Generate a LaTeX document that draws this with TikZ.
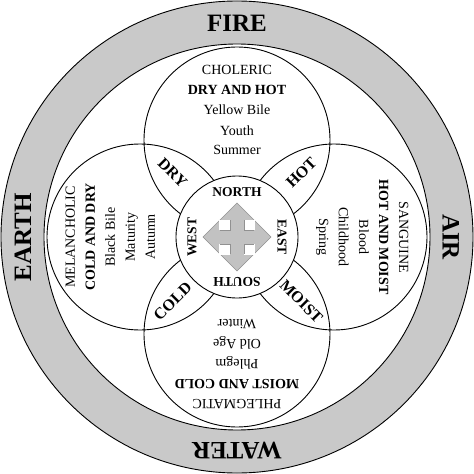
\documentclass[tikz,border=0pt]{standalone}
\usepackage{fontspec}
\setmainfont{Liberation Serif}
\definecolor{ringgray}{gray}{0.79}
\definecolor{stargray}{gray}{0.76}
\begin{document}
\begin{tikzpicture}[x=1pt,y=1pt,line width=0.9pt,
    element/.style={font=\fontsize{25}{25}\selectfont\bfseries,inner sep=0pt},
    humour/.style={anchor=base,inner sep=0pt,font=\fontsize{14}{16}\selectfont},
    quality/.style={anchor=base,inner sep=0pt,font=\fontsize{14}{16}\selectfont\bfseries},
    lens/.style={inner sep=0pt,font=\fontsize{16}{16}\selectfont\bfseries},
    direction/.style={inner sep=0pt,font=\fontsize{13.5}{14}\selectfont\bfseries}]
  \useasboundingbox (-237,-237) rectangle (237,237);
  \fill [white] (-237,-237) rectangle (237,237);
  % ring of the elements
  \draw [fill=ringgray] (0,0) circle (236);
  \draw [fill=white] (0,0) circle (193);
  % the four temperaments
  \draw (0,97) circle (93);
  \draw (97,0) circle (93);
  \draw (0,-97) circle (93);
  \draw (-97,0) circle (93);
  \draw [fill=white] (0,0) circle (61);
  % compass
  \draw [stargray!75!black,fill=stargray,line width=0.5pt] (0,34) -- (34,0) -- (0,-34) -- (-34,0) -- cycle;
  \foreach \sx/\sy in {1/1,1/-1,-1/-1,-1/1} {
    \fill [white] (\sx*7,\sy*7) rectangle (\sx*17.5,\sy*17.5);
    \draw [stargray!75!black,line width=0.5pt] (\sx*17,\sy*7) -- (\sx*7,\sy*7) -- (\sx*7,\sy*17);
  }
  % elements
  \node [element] (fire) at (0,214) {FIRE};
  \node [element,rotate=-90] (air) at (214,0) {AIR};
  \node [element,rotate=180] (water) at (0,-214) {WATER};
  \node [element,rotate=90] (earth) at (-214,0) {EARTH};
  % directions
  \node [direction] (north) at (0,45) {NORTH};
  \node [direction,rotate=-90] (east) at (45,0) {EAST};
  \node [direction,rotate=180] (south) at (0,-45) {SOUTH};
  \node [direction,rotate=90] (west) at (-45,0) {WEST};
  % qualities
  \node [lens,rotate=-45] (dry) at (135:91) {DRY};
  \node [lens,rotate=45] (hot) at (45:91) {HOT};
  \node [lens,rotate=-45] (moist) at (-45:91) {MOIST};
  \node [lens,rotate=45] (cold) at (-135:91) {COLD};
  % choleric
  \node [humour] (ch1) at (0,162) {CHOLERIC};
  \node [quality] (ch2) at (0,142) {DRY AND HOT};
  \node [humour] (ch3) at (0,122) {Yellow Bile};
  \node [humour] (ch4) at (0,102) {Youth};
  \node [humour] (ch5) at (0,82) {Summer};
  % sanguine
  \begin{scope}[rotate=-90,transform shape]
    \node [humour] (sa1) at (0,162) {SANGUINE};
    \node [quality] (sa2) at (0,142) {HOT AND MOIST};
    \node [humour] (sa3) at (0,122) {Blood};
    \node [humour] (sa4) at (0,102) {Childhood};
    \node [humour] (sa5) at (0,82) {Spring};
  \end{scope}
  % phlegmatic
  \begin{scope}[rotate=180,transform shape]
    \node [humour] (ph1) at (0,162) {PHLEGMATIC};
    \node [quality] (ph2) at (0,142) {MOIST AND COLD};
    \node [humour] (ph3) at (0,122) {Phlegm};
    \node [humour] (ph4) at (0,102) {Old Age};
    \node [humour] (ph5) at (0,82) {Winter};
  \end{scope}
  % melancholic
  \begin{scope}[rotate=90,transform shape]
    \node [humour] (me1) at (0,162) {MELANCHOLIC};
    \node [quality] (me2) at (0,142) {COLD AND DRY};
    \node [humour] (me3) at (0,122) {Black Bile};
    \node [humour] (me4) at (0,102) {Maturity};
    \node [humour] (me5) at (0,82) {Autumn};
  \end{scope}
\end{tikzpicture}
\end{document}
